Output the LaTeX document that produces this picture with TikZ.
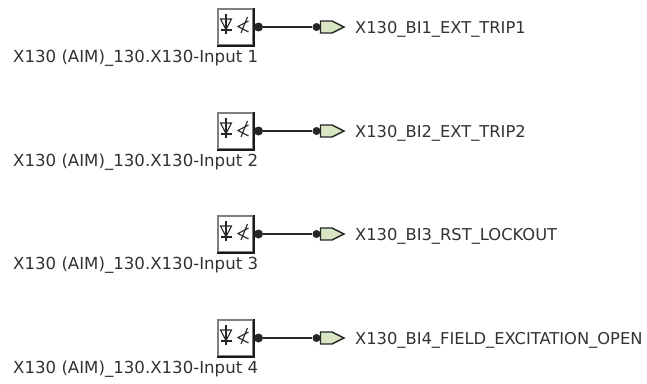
\documentclass[tikz,border=0pt]{standalone}
\usepackage{fontspec}
\setmainfont{DejaVu Sans}
\usetikzlibrary{positioning,calc}
\definecolor{portfill}{RGB}{216,230,196}
\definecolor{labelgray}{RGB}{50,50,50}
\tikzset{
	inbox/.style={draw=gray,line width=2pt,fill=white,minimum size=35.5pt,inner sep=0pt},
	indot/.style={circle,fill=black!85,minimum size=9pt,inner sep=0pt},
	enddot/.style={circle,fill=black!85,minimum size=8pt,inner sep=0pt},
	sigtext/.style={text=labelgray,font=\fontsize{16.3pt}{18pt}\selectfont,inner sep=0pt,anchor=west},
	nametext/.style={text=labelgray,font=\fontsize{16.6pt}{18pt}\selectfont,inner sep=0pt,anchor=west},
	wire/.style={line width=1.4pt,black!85},
	icon/.style={black!85,line width=1.1pt}
}
\newcommand{\inputblock}[4]{
	% #1 row name, #2 y of the wire, #3 input number, #4 signal
	\node[inbox] (box#1) at (235.5,#2) {};
	\draw[black!90,line width=2pt] (box#1.north east)--(box#1.south east)--(box#1.south west);
	\draw[icon] ($(box#1)+(-9.5,-13)$)--($(box#1)+(-9.5,7)$);
	\draw[icon] ($(box#1)+(-15,-8)$)--($(box#1)+(-4,-8)$)--($(box#1)+(-9.5,2.5)$)--cycle;
	\draw[icon] ($(box#1)+(-15,3)$)--($(box#1)+(-4,3)$);
	\draw[icon] ($(box#1)+(13,-6)$)--($(box#1)+(2.5,-0.5)$)--($(box#1)+(13,5)$);
	\draw[icon] ($(box#1)+(12,-10)$)--($(box#1)+(5.5,6)$);
	\node[indot] (dot#1) at (258.5,#2) {};
	\node[enddot] (end#1) at (316.5,#2) {};
	\draw[wire] (dot#1)--(end#1);
	\draw[black!85,line width=1.4pt,fill=portfill] (320.5,#2-6)--(332,#2-6)--(344,#2)--(332,#2+6)--(320.5,#2+6)--cycle;
	\node[sigtext] (sig#1) at (355,#2+2.5) {#4};
	\node[nametext] (name#1) at (13,#2+31) {X130 (AIM)\_130.X130-Input #3};
}
\begin{document}
\begin{tikzpicture}[x=1pt,y=-1pt]
	\useasboundingbox (0,0) rectangle (647,383);
	\inputblock{A}{27}{1}{X130\_BI1\_EXT\_TRIP1}
	\inputblock{B}{131}{2}{X130\_BI2\_EXT\_TRIP2}
	\inputblock{C}{234}{3}{X130\_BI3\_RST\_LOCKOUT}
	\inputblock{D}{338}{4}{X130\_BI4\_FIELD\_EXCITATION\_OPEN}
\end{tikzpicture}
\end{document}
